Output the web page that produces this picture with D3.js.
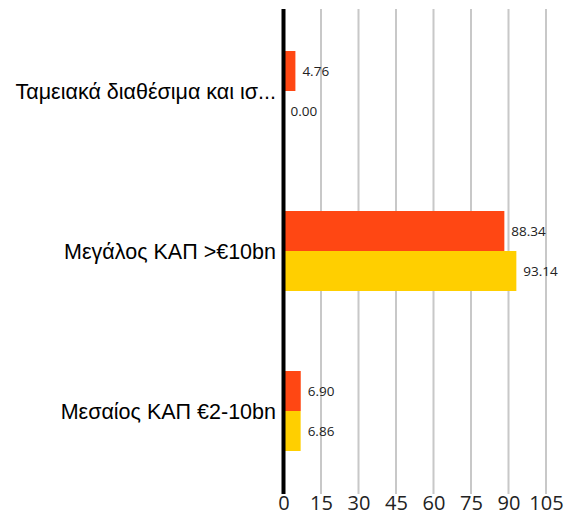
<!DOCTYPE html>
<html>
<head>
<meta charset="utf-8">
<script src="https://cdn.jsdelivr.net/npm/d3@7"></script>
<style>
  body { margin: 0; background: #fff; }
  svg { display: block; }
</style>
</head>
<body>
<svg></svg>
<script>
// data
const categories = ["Ταμειακά διαθέσιμα και ισ...", "Μεγάλος ΚΑΠ >€10bn", "Μεσαίος ΚΑΠ €2-10bn"];
const seriesA = [4.76, 88.34, 6.90];   // orange
const seriesB = [0.00, 93.14, 6.86];   // yellow
const tickValues = [0, 15, 30, 45, 60, 75, 90, 105];

const width = 580, height = 515;
const colors = ["#ff4713", "#ffcf00"];

const svg = d3.select("svg").attr("width", width).attr("height", height);

const x = d3.scaleLinear().domain([0, 105]).range([283.5, 546]);
const y = d3.scaleBand().domain(categories).range([11, 491]).paddingInner(0.5).paddingOuter(0.25);
const sub = d3.scaleBand().domain([0, 1]).range([0, y.bandwidth()]);

// grid lines
svg.append("g")
  .selectAll("line")
  .data(tickValues.filter(d => d > 0))
  .join("line")
  .attr("x1", d => x(d)).attr("x2", d => x(d))
  .attr("y1", 9).attr("y2", 494)
  .attr("stroke", "#c8c8c8")
  .attr("stroke-width", 2);

const rows = categories.map((c, i) => ({ cat: c, vals: [seriesA[i], seriesB[i]] }));

const group = svg.append("g")
  .selectAll("g")
  .data(rows)
  .join("g")
  .attr("transform", d => `translate(0,${y(d.cat)})`);

group.selectAll("rect")
  .data(d => d.vals.map((v, j) => ({ v, j })))
  .join("rect")
  .attr("x", x(0))
  .attr("y", d => sub(d.j))
  .attr("width", d => x(d.v) - x(0))
  .attr("height", sub.bandwidth())
  .attr("fill", d => colors[d.j]);

group.selectAll("text")
  .data(d => d.vals.map((v, j) => ({ v, j })))
  .join("text")
  .attr("x", d => x(d.v) + 7)
  .attr("y", d => sub(d.j) + sub.bandwidth() / 2)
  .attr("dy", "0.35em")
  .attr("fill", "#222")
  .style("font", "13.5px 'Open Sans', sans-serif")
  .text(d => d.v.toFixed(2));

// category labels
svg.append("g")
  .selectAll("text")
  .data(categories)
  .join("text")
  .attr("x", 276)
  .attr("y", d => y(d) + y.bandwidth() / 2)
  .attr("dy", "0.35em")
  .attr("text-anchor", "end")
  .attr("fill", "#000")
  .style("font", "21.5px 'Liberation Sans', Arial, sans-serif")
  .text(d => d);

// zero axis line
svg.append("line")
  .attr("x1", x(0)).attr("x2", x(0))
  .attr("y1", 9).attr("y2", 494)
  .attr("stroke", "#000")
  .attr("stroke-width", 4);

// bottom tick labels
const xAxis = d3.axisBottom(x).tickValues(tickValues).tickSize(0).tickPadding(0);
svg.append("g")
  .attr("transform", "translate(0,509.5)")
  .call(xAxis)
  .call(g => g.select(".domain").remove())
  .call(g => g.selectAll("text")
    .attr("fill", "#222")
    .attr("y", 0)
    .attr("dy", 0)
    .style("font", "20px 'Open Sans', sans-serif"));
</script>
</body>
</html>
